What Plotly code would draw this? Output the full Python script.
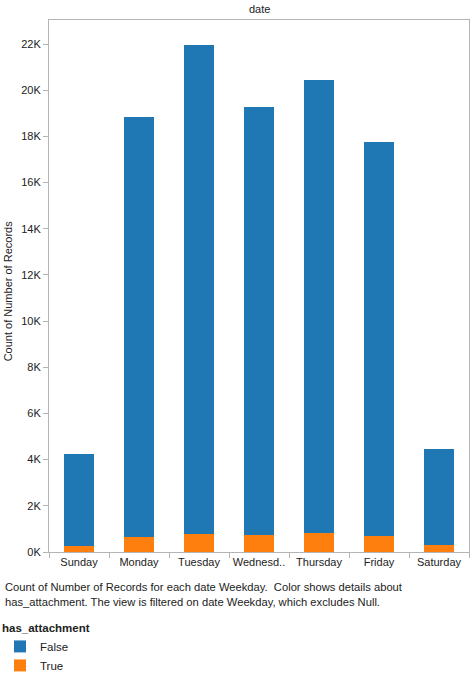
import plotly.graph_objects as go

days = ["Sunday", "Monday", "Tuesday", "Wednesday", "Thursday", "Friday", "Saturday"]
day_labels = ["Sunday", "Monday", "Tuesday", "Wednesd..", "Thursday", "Friday", "Saturday"]
false_counts = [3965, 18190, 21170, 18520, 19620, 17050, 4140]
true_counts = [275, 650, 790, 750, 820, 710, 320]
y_tickvals = [0, 2000, 4000, 6000, 8000, 10000, 12000, 14000, 16000, 18000, 20000, 22000]
y_ticktext = ["0K", "2K", "4K", "6K", "8K", "10K", "12K", "14K", "16K", "18K", "20K", "22K"]

FONT = "Liberation Sans, Arial, sans-serif"
AX = "#b4b4b4"

fig = go.Figure()
fig.add_trace(go.Bar(x=days, y=true_counts, name="True", marker=dict(color="#ff7f0e", line=dict(width=0)), width=0.5))
fig.add_trace(go.Bar(x=days, y=false_counts, name="False", marker=dict(color="#1f77b4", line=dict(width=0)), width=0.5))

fig.update_layout(
    width=470, height=678,
    margin=dict(l=49, r=1, t=20, b=126, autoexpand=False),
    barmode="stack",
    plot_bgcolor="white", paper_bgcolor="white",
    font=dict(family=FONT, size=11, color="#222"),
    showlegend=True,
    legend=dict(
        traceorder="reversed",
        orientation="v",
        xref="container", yref="container",
        x=0, xanchor="left",
        y=0.090, yanchor="top",
        title=dict(text="<b>has_attachment</b>", side="top", font=dict(size=11.5, color="#222")),
        font=dict(size=11.5, color="#222"),
        itemsizing="constant",
        tracegroupgap=0,
        bgcolor="rgba(0,0,0,0)",
    ),
    xaxis=dict(
        type="category",
        tickvals=days, ticktext=day_labels,
        ticks="outside", tickson="boundaries", ticklen=5, tickcolor=AX,
        showline=True, linecolor=AX, linewidth=1, mirror=True,
        showgrid=False, tickfont=dict(size=11, color="#222"),
        tickangle=0, automargin=False,
        range=[-0.5, 6.5],
    ),
    yaxis=dict(
        range=[0, 23040],
        tickvals=y_tickvals, ticktext=y_ticktext,
        ticks="outside", ticklen=5, tickcolor=AX,
        showline=True, linecolor=AX, linewidth=1, mirror=True,
        showgrid=False, zeroline=False, automargin=False,
        tickfont=dict(size=11, color="#222"),
    ),
    annotations=[
        dict(text="date", xref="paper", yref="paper", x=0.5, y=1, yshift=3,
             xanchor="center", yanchor="bottom", showarrow=False, font=dict(size=11, color="#222")),
        dict(text="Count of Number of Records", xref="paper", yref="paper", x=-0.0976, y=0.49,
             xanchor="center", yanchor="middle", textangle=-90, showarrow=False,
             font=dict(size=11, color="#222")),
        dict(text="Count of Number of Records for each date Weekday.  Color shows details about<br>has_attachment. The view is filtered on date Weekday, which excludes Null.",
             xref="paper", yref="paper", x=-0.11, y=0, yshift=-27, xanchor="left", yanchor="top",
             align="left", showarrow=False, font=dict(size=11.2, color="#222")),
    ],
)

fig.write_html("out.html")
